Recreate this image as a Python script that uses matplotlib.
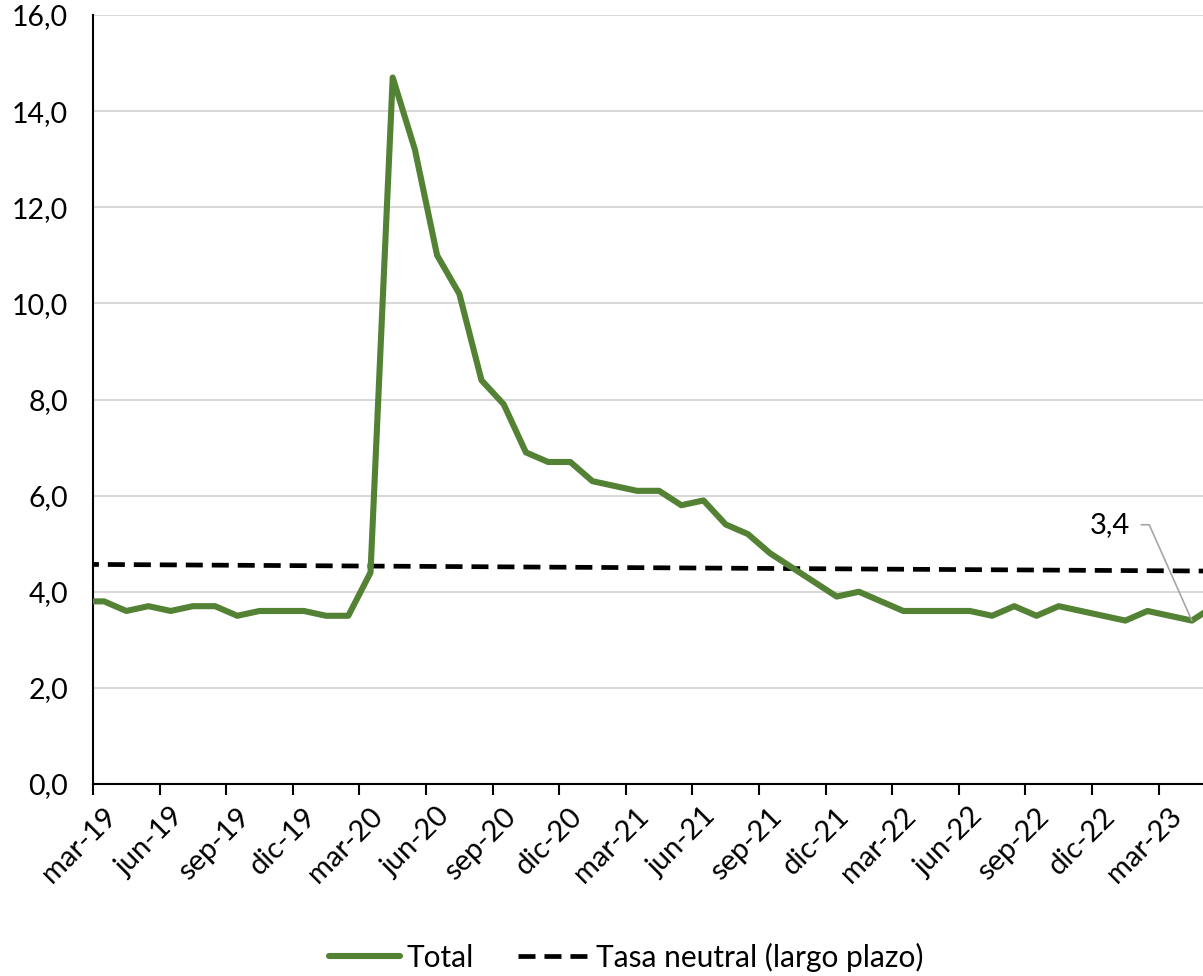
import matplotlib
matplotlib.use("Agg")
import matplotlib.pyplot as plt
import matplotlib.transforms as mtransforms
from matplotlib.ticker import FuncFormatter, FixedLocator

plt.rcParams['font.family'] = ['Lato', 'DejaVu Sans']

# Monthly series from feb-19 to may-23
months = ["feb-19", "mar-19", "abr-19", "may-19", "jun-19", "jul-19", "ago-19", "sep-19",
          "oct-19", "nov-19", "dic-19", "ene-20", "feb-20", "mar-20", "abr-20", "may-20",
          "jun-20", "jul-20", "ago-20", "sep-20", "oct-20", "nov-20", "dic-20", "ene-21",
          "feb-21", "mar-21", "abr-21", "may-21", "jun-21", "jul-21", "ago-21", "sep-21",
          "oct-21", "nov-21", "dic-21", "ene-22", "feb-22", "mar-22", "abr-22", "may-22",
          "jun-22", "jul-22", "ago-22", "sep-22", "oct-22", "nov-22", "dic-22", "ene-23",
          "feb-23", "mar-23", "abr-23", "may-23"]
total = [3.8, 3.8, 3.6, 3.7, 3.6, 3.7, 3.7, 3.5, 3.6, 3.6, 3.6, 3.5, 3.5, 4.4, 14.7, 13.2,
         11.0, 10.2, 8.4, 7.9, 6.9, 6.7, 6.7, 6.3, 6.2, 6.1, 6.1, 5.8, 5.9, 5.4, 5.2, 4.8,
         4.5, 4.2, 3.9, 4.0, 3.8, 3.6, 3.6, 3.6, 3.6, 3.5, 3.7, 3.5, 3.7, 3.6, 3.5, 3.4,
         3.6, 3.5, 3.4, 3.7]
neutral_months = ["feb-19", "may-23"]
neutral = [4.57, 4.43]

tick_labels = ["mar-19", "jun-19", "sep-19", "dic-19", "mar-20", "jun-20", "sep-20", "dic-20",
               "mar-21", "jun-21", "sep-21", "dic-21", "mar-22", "jun-22", "sep-22", "dic-22",
               "mar-23"]
label_month = "abr-23"
label_text = "3,4"

base = months.index("mar-19")
def pos(m):
    # points sit mid-month; month boundaries are the tick positions
    return months.index(m) - base + 0.5

x = [pos(m) for m in months]
nx = [pos(m) for m in neutral_months]

fig = plt.figure(figsize=(12.03, 9.76), dpi=100)
ax = fig.add_axes([93/1203, 1 - 784/976, 1 - 93/1203, (784 - 15)/976])

green = "#548235"
ax.plot(x, total, color=green, lw=4.4, solid_joinstyle='round', solid_capstyle='round',
        label="Total", zorder=3)
ax.plot(nx, neutral, color="black", lw=3.4, dashes=(3.6, 1.9), label="Tasa neutral (largo plazo)",
        zorder=2)

ax.set_xlim(0, pos("may-23") - 0.5)
ax.set_ylim(0, 16)
ax.yaxis.set_major_locator(FixedLocator([0, 2, 4, 6, 8, 10, 12, 14, 16]))
ax.yaxis.set_major_formatter(FuncFormatter(lambda v, p: f"{v:.1f}".replace(".", ",")))
ax.grid(axis='y', color="#D9D9D9", lw=1.5)
ax.set_axisbelow(True)

tick_pos = [pos(m) - 0.5 for m in tick_labels]
ax.set_xticks(tick_pos)
ax.set_xticklabels(tick_labels, rotation=45, ha='right', rotation_mode='anchor')
ax.tick_params(axis='x', length=8, width=1.5, color='black', labelsize=21, pad=6)
ax.tick_params(axis='y', length=0, labelsize=20.5, pad=18)
shift = mtransforms.ScaledTranslation(10/100, 0, fig.dpi_scale_trans)
for lab in ax.get_xticklabels():
    lab.set_transform(lab.get_transform() + shift)

for s in ['top', 'right']:
    ax.spines[s].set_visible(False)
ax.spines['left'].set_linewidth(1.5)
ax.spines['bottom'].set_linewidth(1.5)

lx = pos(label_month)
ly = total[months.index(label_month)]
ax.annotate(label_text, xy=(lx, ly), xytext=(-59, 69), textcoords='offset points',
            fontsize=21, ha='center', va='center',
            arrowprops=dict(arrowstyle='-', color='#A6A6A6', lw=1.2,
                            shrinkA=6, shrinkB=0,
                            connectionstyle='angle,angleA=0,angleB=-66,rad=0'))

fig.legend(loc='center', bbox_to_anchor=(626/1203, 1 - 957/976), ncol=2, frameon=False,
           fontsize=21.5, handlelength=2.4, columnspacing=1.5, handletextpad=0.2,
           borderaxespad=0)

fig.savefig("out.png", dpi=100)
